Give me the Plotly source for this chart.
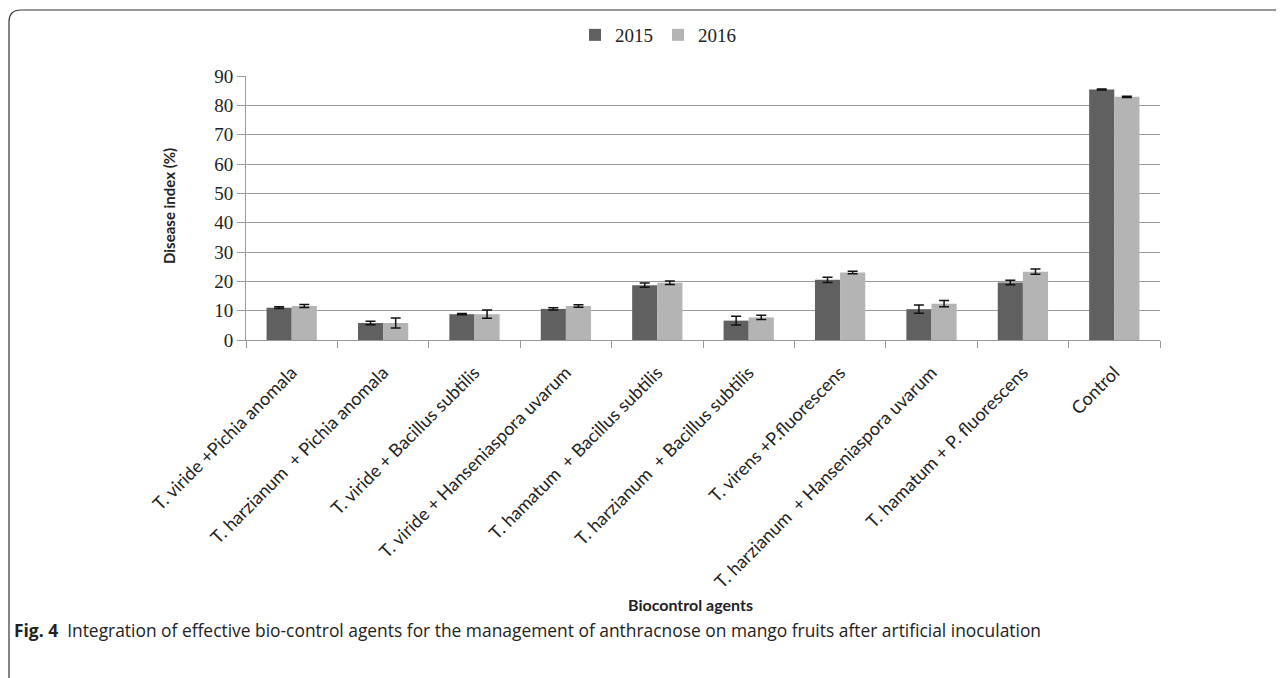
import plotly.graph_objects as go

categories = [
    "T. viride +Pichia anomala",
    "T. harzianum \u00a0+ Pichia anomala",
    "T. viride + Bacillus subtilis",
    "T. viride + Hanseniaspora uvarum",
    "T. hamatum \u00a0+ Bacillus subtilis",
    "T. harzianum \u00a0+ Bacillus subtilis",
    "T. virens +P.fluorescens",
    "T. harzianum \u00a0+ Hanseniaspora uvarum",
    "T. hamatum + P. fluorescens",
    "Control",
]
vals_2015 = [11.0, 5.8, 8.8, 10.6, 18.7, 6.6, 20.5, 10.5, 19.6, 85.4]
err_2015 = [0.3, 0.6, 0.2, 0.4, 0.7, 1.5, 0.9, 1.4, 0.8, 0.2]
vals_2016 = [11.6, 5.8, 8.8, 11.6, 19.5, 7.7, 23.0, 12.4, 23.3, 82.9]
err_2016 = [0.5, 1.7, 1.4, 0.4, 0.6, 0.7, 0.4, 1.1, 0.9, 0.2]
y_ticks = [0, 10, 20, 30, 40, 50, 60, 70, 80, 90]

# page body has an 8px margin, so layout coordinates are shifted by -8px
W, H = 1284, 678
L, R, T, B = 238, 1152, 68, 332

fig = go.Figure()
fig.add_trace(go.Bar(
    name="2015", x=categories, y=vals_2015,
    marker=dict(color="#606060", line=dict(width=0)),
    error_y=dict(type="data", array=err_2015, color="#111111", thickness=1.5, width=5),
))
fig.add_trace(go.Bar(
    name="2016", x=categories, y=vals_2016,
    marker=dict(color="#b4b4b4", line=dict(width=0)),
    error_y=dict(type="data", array=err_2016, color="#111111", thickness=1.5, width=5),
))

def px(x):
    return (x - L) / (R - L)

def py(y):
    return (B - y) / (B - T)

# rounded frame (top and left edges)
r = 12
x0, y0 = 1, 2
path = (f"M {px(x0)},{py(H)} L {px(x0)},{py(y0 + r)} "
        f"Q {px(x0)},{py(y0)} {px(x0 + r)},{py(y0)} L {px(W)},{py(y0)}")
fig.add_shape(type="path", path=path, xref="paper", yref="paper",
              line=dict(color="#333333", width=1.2))

fig.add_annotation(
    x=px(4), y=py(622), xref="paper", yref="paper", xanchor="left", yanchor="middle",
    text="<b>Fig. 4</b>  Integration of effective bio-control agents for the management of anthracnose on mango fruits after artificial inoculation",
    showarrow=False, font=dict(family="Open Sans", size=17.4, color="#222222"),
)
fig.add_annotation(
    x=px(682), y=py(596), xref="paper", yref="paper", xanchor="center", yanchor="middle",
    text="<b>Biocontrol agents</b>", showarrow=False,
    font=dict(family="Lato", size=16, color="#222222"),
)
fig.add_annotation(
    x=px(161), y=py(198), xref="paper", yref="paper", xanchor="center", yanchor="middle",
    text="<b>Disease index (%)</b>", showarrow=False, textangle=-90,
    font=dict(family="Lato", size=15, color="#222222"),
)

fig.update_layout(
    width=W, height=H,
    margin=dict(l=L, r=W - R, t=T, b=H - B, pad=0, autoexpand=False),
    paper_bgcolor="white", plot_bgcolor="white",
    barmode="group", bargap=0.45, bargroupgap=0,
    showlegend=True,
    legend=dict(orientation="h", x=px(650), xanchor="center", y=py(27), yanchor="middle",
                bgcolor="rgba(0,0,0,0)",
                font=dict(family="Liberation Serif", size=19, color="#222222"),
                itemwidth=30, traceorder="normal"),
    font=dict(family="Lato", color="#222222"),
)
fig.update_yaxes(
    range=[0, 90], tickvals=y_ticks, showgrid=True, gridcolor="#9a9a9a", gridwidth=1,
    showline=True, linecolor="#9a9a9a", linewidth=1,
    ticks="outside", ticklen=8, tickcolor="#9a9a9a",
    tickfont=dict(family="Liberation Serif", size=19, color="#222222"),
    zeroline=False,
)
fig.update_xaxes(
    showline=True, linecolor="#9a9a9a", linewidth=1,
    ticks="outside", ticklen=7, tickcolor="#9a9a9a", tickson="boundaries",
    tickangle=-45, ticklabelstandoff=14,
    tickfont=dict(family="Lato", size=18, color="#222222"),
)

fig.write_html("out.html")
